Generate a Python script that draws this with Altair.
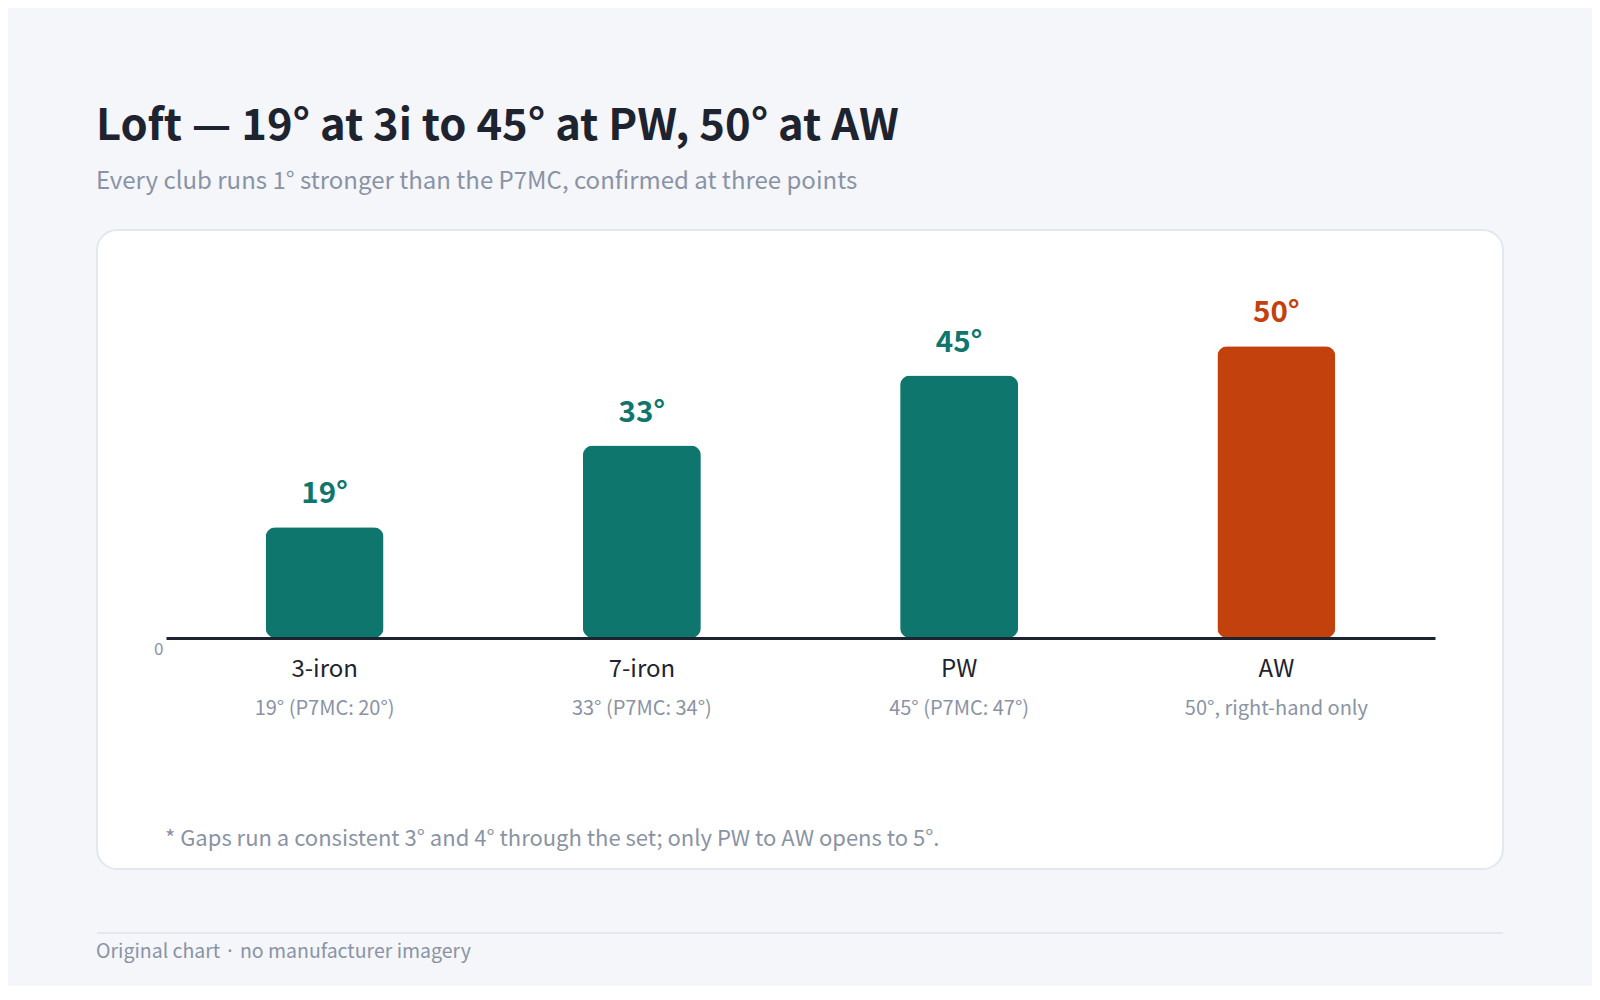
import altair as alt
import pandas as pd

clubs = ["3-iron", "7-iron", "PW", "AW"]
lofts = [19, 33, 45, 50]
value_labels = ["19°", "33°", "45°", "50°"]
sub_labels = ["19° (P7MC: 20°)", "33° (P7MC: 34°)", "45° (P7MC: 47°)", "50°, right-hand only"]
groups = ["set", "set", "set", "wedge"]

title_text = ["Loft — 19° at 3i to 45° at PW, 50° at AW"]
subtitle_text = ["Every club runs 1° stronger than the P7MC, confirmed at three points"]
note_text = ["* Gaps run a consistent 3° and 4° through the set; only PW to AW opens to 5°."]
footer_text = ["Original chart · no manufacturer imagery"]

FONT = "Noto Sans CJK KR"
DARK = "#1e2330"
GREY = "#8a93a6"
TEAL = "#0f766e"
ORANGE = "#c2410c"
LINE = "#e4e6f0"
W, H = 1269, 350

df = pd.DataFrame({
    "club": clubs,
    "loft": lofts,
    "label": value_labels,
    "sub": sub_labels,
    "group": groups,
})

x = alt.X(
    "club:N",
    sort=clubs,
    scale=alt.Scale(paddingInner=0.63, paddingOuter=0.315),
    axis=alt.Axis(
        title=None, labelAngle=0, ticks=False, grid=False,
        domainColor=DARK, domainWidth=3, labelColor=DARK,
        labelFontSize=24, labelFont=FONT, labelPadding=19, zindex=1,
    ),
)
y = alt.Y(
    "loft:Q",
    scale=alt.Scale(domain=[0, 60]),
    axis=alt.Axis(
        title=None, values=[0], domain=False, ticks=False, grid=False,
        labelColor=GREY, labelFontSize=17, labelFont=FONT,
        labelBaseline="top", labelPadding=3, labelOffset=3, zindex=1,
    ),
)
color = alt.Color(
    "group:N",
    scale=alt.Scale(domain=["set", "wedge"], range=[TEAL, ORANGE]),
    legend=None,
)

one = pd.DataFrame({"k": [0]})

# white card behind the plot
card = alt.Chart(one).mark_rect(
    fill="white", stroke=LINE, strokeWidth=2, cornerRadius=20
).encode(
    x=alt.value(-69), x2=alt.value(1337), y=alt.value(-58), y2=alt.value(581)
)

bars = alt.Chart(df).mark_bar(cornerRadius=10, size=118).encode(x=x, y=y, color=color)

values = alt.Chart(df).mark_text(
    dy=-24, baseline="alphabetic", fontSize=29.5, fontWeight="bold", font=FONT
).encode(x=x, y=y, text="label:N", color=color)

subs = alt.Chart(df).mark_text(
    baseline="alphabetic", fontSize=20, font=FONT, color=GREY
).encode(x=x, y=alt.value(427), text="sub:N")


def note(lines, px, py, size, col, weight="normal"):
    return alt.Chart(pd.DataFrame({"t": lines})).mark_text(
        align="left", baseline="alphabetic", fontSize=size, font=FONT,
        color=col, fontWeight=weight,
    ).encode(x=alt.value(px), y=alt.value(py), text="t:N")


title = note(title_text, -70, -148, 43.5, DARK, "bold")
subtitle = note(subtitle_text, -70, -99, 24, GREY)
footnote = note(note_text, -1, 558, 22, GREY)
footer = note(footer_text, -70, 670, 19.5, GREY)

footer_rule = alt.Chart(one).mark_rule(color=LINE, strokeWidth=2).encode(
    x=alt.value(-69), x2=alt.value(1337), y=alt.value(645)
)

chart = alt.layer(
    card, bars, values, subs, title, subtitle, footnote, footer_rule, footer
).properties(
    width=W,
    height=H,
    autosize=alt.AutoSizeParams(type="none"),
    padding={"left": 158, "top": 280, "right": 157, "bottom": 348},
    background="#f5f6fa",
).configure_view(stroke=None)

chart.save("out.html", embed_options={"renderer": "svg", "actions": False})
